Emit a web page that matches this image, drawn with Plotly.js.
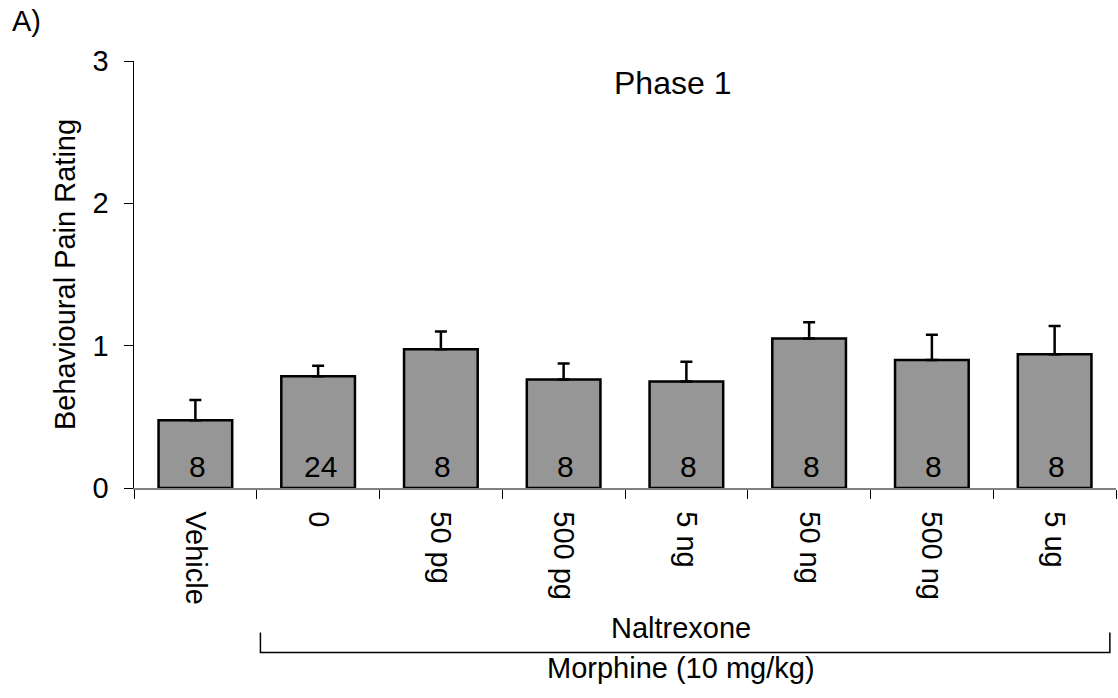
<!DOCTYPE html>
<html>
<head>
<meta charset="utf-8">
<script src="https://cdn.plot.ly/plotly-3.0.1.min.js"></script>
<style>html,body{margin:0;padding:0;background:#fff;}#chart{width:1118px;height:698px;}</style>
</head>
<body>
<div id="chart"></div>
<script>
const categories = ["Vehicle", "0", "50 pg", "500 pg", "5 ng", "50 ng", "500 ng", "5 ug"];
const means = [0.476, 0.786, 0.974, 0.763, 0.749, 1.051, 0.899, 0.939];
const sems = [0.142, 0.073, 0.126, 0.112, 0.138, 0.113, 0.178, 0.199];
const nLabels = ["8", "24", "8", "8", "8", "8", "8", "8"];
const yTicks = [0, 1, 2, 3];

const FONT = "Liberation Sans, Arial, sans-serif";

const trace = {
  type: "bar",
  x: categories,
  y: means,
  width: 0.6,
  marker: {color: "#969696", line: {color: "#000", width: 2.5}},
  error_y: {type: "data", array: sems, arrayminus: sems.map(() => 0), symmetric: false,
            color: "#000", thickness: 2.5, width: 6},
  hoverinfo: "none"
};

const annotations = nLabels.map((t, i) => ({
  x: i, y: 0.15, xref: "x", yref: "y", text: t, showarrow: false,
  xanchor: "center", yanchor: "middle", xshift: 2,
  font: {family: FONT, size: 30, color: "#000"}
}));
annotations.push(
  {x: 0.548, y: 0.949, xref: "paper", yref: "paper", text: "Phase 1", showarrow: false,
   xanchor: "center", yanchor: "middle", font: {family: FONT, size: 32, color: "#000"}},
  {x: -0.1265, y: 1.094, xref: "paper", yref: "paper", text: "A)", showarrow: false,
   xanchor: "left", yanchor: "middle", font: {family: FONT, size: 29, color: "#000"}},
  {x: 0.557, y: (487.7 - 628) / 426.4, xref: "paper", yref: "paper", text: "Naltrexone", showarrow: false,
   xanchor: "center", yanchor: "middle", font: {family: FONT, size: 29, color: "#000"}},
  {x: 0.557, y: (487.7 - 667) / 426.4, xref: "paper", yref: "paper", text: "Morphine (10 mg/kg)", showarrow: false,
   xanchor: "center", yanchor: "middle", font: {family: FONT, size: 29, color: "#000"}}
);

const yTop = (487.7 - 632) / 426.4, yBot = (487.7 - 652) / 426.4;
const shapes = [
  {type: "path", xref: "x", yref: "paper",
   path: `M 0.53 ${yTop} L 0.53 ${yBot} L 7.45 ${yBot} L 7.45 ${yTop}`,
   line: {color: "#000", width: 1.5}}
];

const layout = {
  width: 1118, height: 698,
  margin: {l: 133.5, r: 2, t: 61.3, b: 210.3},
  paper_bgcolor: "#fff", plot_bgcolor: "#fff",
  showlegend: false,
  font: {family: FONT, size: 29, color: "#000"},
  xaxis: {
    type: "category", range: [-0.5, 7.5], categoryorder: "array", categoryarray: categories,
    tickson: "boundaries", ticks: "outside", ticklen: 9, tickcolor: "#000", tickwidth: 1,
    tickangle: 90, ticklabelstandoff: 16, showline: true, linecolor: "#808080", linewidth: 1.5,
    showgrid: false, zeroline: false, fixedrange: true, automargin: false,
    tickfont: {family: FONT, size: 29, color: "#000"}
  },
  yaxis: {
    range: [0, 3], tickmode: "array", tickvals: yTicks, ticktext: yTicks.map(String),
    ticks: "outside", ticklen: 9, tickcolor: "#000", tickwidth: 1, ticklabelstandoff: 9,
    showline: true, linecolor: "#000", linewidth: 1.5,
    showgrid: false, zeroline: false, fixedrange: true, automargin: false,
    tickfont: {family: FONT, size: 29, color: "#000"},
    title: {text: "Behavioural Pain Rating", font: {family: FONT, size: 29, color: "#000"}, standoff: 8}
  },
  annotations: annotations,
  shapes: shapes
};

Plotly.newPlot("chart", [trace], layout, {displayModeBar: false, staticPlot: true});
</script>
</body>
</html>
